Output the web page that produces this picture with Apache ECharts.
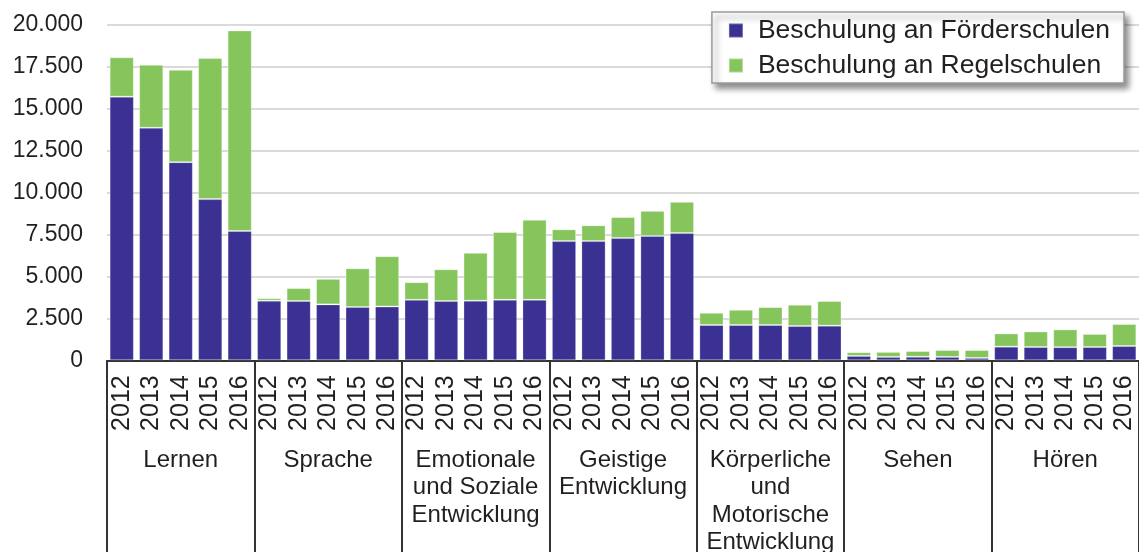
<!DOCTYPE html>
<html>
<head>
<meta charset="utf-8">
<script src="https://cdn.jsdelivr.net/npm/echarts@6/dist/echarts.min.js"></script>
<style>
html,body{margin:0;padding:0;background:#fff;}
#chart{width:1139px;height:552px;}
</style>
</head>
<body>
<div id="chart"></div>
<script>
var years = ['2012','2013','2014','2015','2016'];
var groups = ['Lernen','Sprache','Emotionale\nund Soziale\nEntwicklung','Geistige\nEntwicklung','Körperliche\nund\nMotorische\nEntwicklung','Sehen','Hören'];
var seriesNames = ['Beschulung an Förderschulen','Beschulung an Regelschulen'];
var yTicks = [0,2500,5000,7500,10000,12500,15000,17500,20000];

// Förderschulen per group, years 2012-2016
var foerderLernen     = [15700,13850,11800,9600,7700];
var foerderSprache    = [3550,3530,3330,3170,3200];
var foerderEmotional  = [3600,3530,3550,3600,3600];
var foerderGeistig    = [7100,7100,7280,7400,7580];
var foerderKoerper    = [2100,2100,2100,2040,2060];
var foerderSehen      = [260,200,210,200,140];
var foerderHoeren     = [810,790,780,790,850];

// Regelschulen per group, years 2012-2016
var regelLernen       = [2350,3750,5500,8400,11950];
var regelSprache      = [150,770,1520,2310,3000];
var regelEmotional    = [1050,1890,2850,4040,4770];
var regelGeistig      = [700,940,1250,1500,1860];
var regelKoerper      = [730,910,1070,1270,1470];
var regelSehen        = [220,300,340,410,470];
var regelHoeren       = [790,930,1060,780,1310];

var foerder = [].concat(foerderLernen,foerderSprache,foerderEmotional,foerderGeistig,foerderKoerper,foerderSehen,foerderHoeren);
var regel = [].concat(regelLernen,regelSprache,regelEmotional,regelGeistig,regelKoerper,regelSehen,regelHoeren);
var yearCats = [];
groups.forEach(function(g){ years.forEach(function(y){ yearCats.push(y); }); });

function fmt(v){ return String(v).replace(/\B(?=(\d{3})+(?!\d))/g, '.'); }

var FONT = '"Liberation Sans", Arial, sans-serif';
var TXT = '#231f20';

var chart = echarts.init(document.getElementById('chart'), null, {renderer:'canvas'});
chart.setOption({
  animation: false,
  textStyle: {fontFamily: FONT},
  grid: {left: 107, right: 0, top: 24.5, bottom: 191.7, containLabel: false, outerBoundsMode: 'none'},
  legend: {
    orient: 'vertical',
    right: 15, top: 12,
    data: seriesNames,
    icon: 'rect',
    itemWidth: 14, itemHeight: 14,
    itemGap: 8,
    padding: [5, 14, 4, 16],
    backgroundColor: '#fff',
    borderColor: '#9a9a9a',
    borderWidth: 1.5,
    shadowBlur: 6,
    shadowColor: 'rgba(0,0,0,0.45)',
    shadowOffsetX: 4,
    shadowOffsetY: 5,
    textStyle: {fontFamily: FONT, fontSize: 26.5, color: TXT, lineHeight: 27, padding: [0,0,0,10]}
  },
  xAxis: [
    {
      type: 'category',
      data: yearCats,
      position: 'bottom',
      axisLine: {show: true, lineStyle: {color: '#333', width: 2}},
      axisTick: {show: false},
      axisLabel: {interval: 0, rotate: 90, fontSize: 25, color: TXT, margin: 15, fontFamily: FONT},
      splitLine: {show: false}
    },
    {
      type: 'category',
      data: groups,
      position: 'bottom',
      axisLine: {show: false},
      axisTick: {show: true, interval: 0, length: 192, lineStyle: {color: '#333', width: 2}},
      axisLabel: {interval: 0, fontSize: 24, lineHeight: 27.5, color: TXT, margin: 86, fontFamily: FONT, align: 'center'},
      splitLine: {show: false}
    }
  ],
  yAxis: {
    type: 'value',
    min: yTicks[0], max: yTicks[yTicks.length-1], interval: yTicks[1]-yTicks[0],
    axisLine: {show: false},
    axisTick: {show: false},
    axisLabel: {fontSize: 23, color: TXT, margin: 24, formatter: fmt, fontFamily: FONT},
    splitLine: {lineStyle: {color: '#dadada', width: 2}}
  },
  series: [
    {
      name: seriesNames[0], type: 'bar', stack: 'total', xAxisIndex: 0,
      data: foerder, barCategoryGap: '18%',
      itemStyle: {color: '#3a3192', borderColor: 'rgba(255,255,255,0.25)', borderWidth: 1}
    },
    {
      name: seriesNames[1], type: 'bar', stack: 'total', xAxisIndex: 0,
      data: regel, barCategoryGap: '18%',
      itemStyle: {color: '#85c55b', borderColor: 'rgba(255,255,255,0.35)', borderWidth: 1}
    }
  ]
});
</script>
</body>
</html>
